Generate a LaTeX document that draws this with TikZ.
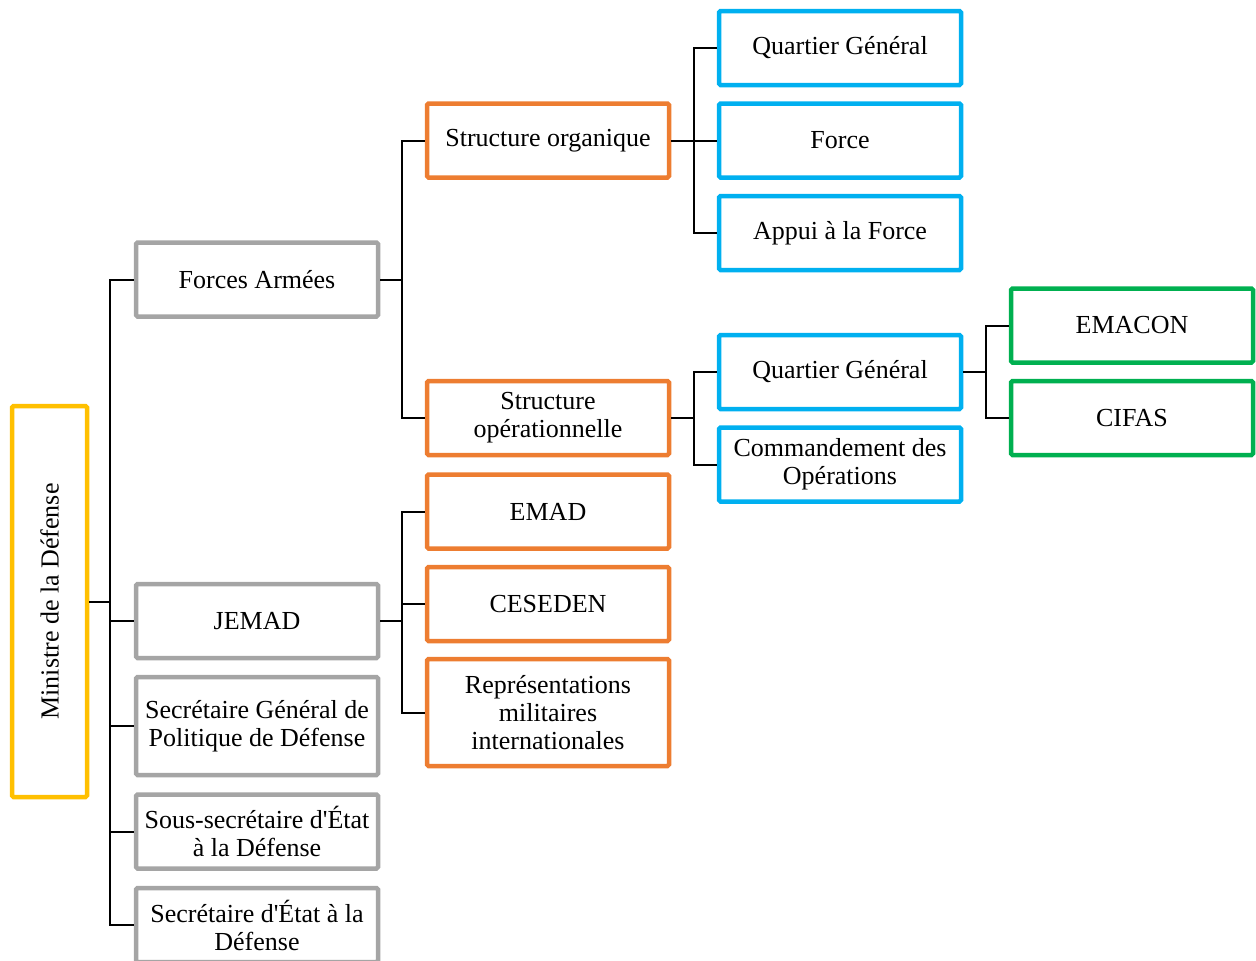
\documentclass[tikz,border=0pt]{standalone}
\usepackage{fontspec}
\setmainfont{Liberation Serif}
\definecolor{cgray}{HTML}{A5A5A5}
\definecolor{corange}{HTML}{ED7D31}
\definecolor{cblue}{HTML}{00B0F0}
\definecolor{cgreen}{HTML}{00B050}
\definecolor{cyellow}{HTML}{FFC000}
\tikzset{
  box/.style={draw, line width=4.5pt, rounded corners=1.5pt, fill=white, inner sep=0pt,
    minimum width=242pt, minimum height=74pt, align=center,
    font=\fontsize{26}{28}\selectfont},
  graybox/.style={box, draw=cgray},
  orangebox/.style={box, draw=corange},
  bluebox/.style={box, draw=cblue},
  greenbox/.style={box, draw=cgreen},
  link/.style={draw=black, line width=2pt},
}
\begin{document}
\begin{tikzpicture}[x=1pt,y=-1pt]
\useasboundingbox (0,0) rectangle (1256,961);
% bus positions
\coordinate (b1) at (110,0);
\coordinate (b2) at (402,0);
\coordinate (b3) at (694,0);
\coordinate (b4) at (986,0);
% root
\node[box, draw=cyellow, minimum width=75pt, minimum height=391pt] (mini) at (49.5,601.5) {\rotatebox{90}{Ministre de la Défense}};
% gray column
\node[graybox] (fa) at (257,279.5) {Forces Armées};
\node[graybox] (jemad) at (257,621) {JEMAD};
\node[graybox, minimum height=98pt] (sg) at (257,726) {Secrétaire Général de\\Politique de Défense};
\node[graybox] (ss) at (257,831.5) {Sous-secrétaire d\textquotesingle État\\à la Défense};
\node[graybox] (se) at (257,925) {Secrétaire d\textquotesingle État à la\\Défense};
% orange column
\node[orangebox] (so) at (548,140.5) {Structure organique};
\node[orangebox] (sop) at (548,418) {Structure\\opérationnelle};
\node[orangebox] (emad) at (548,511.5) {EMAD};
\node[orangebox] (ces) at (548,604) {CESEDEN};
\node[orangebox, minimum height=107pt] (rep) at (548,712.5) {Représentations\\militaires\\internationales};
% blue column
\node[bluebox] (qg1) at (840,48) {Quartier Général};
\node[bluebox] (force) at (840,140.5) {Force};
\node[bluebox] (appui) at (840,233) {Appui à la Force};
\node[bluebox] (qg2) at (840,372) {Quartier Général};
\node[bluebox] (cmd) at (840,464.5) {Commandement des\\Opérations};
% green column
\node[greenbox] (emacon) at (1132,325.5) {EMACON};
\node[greenbox] (cifas) at (1132,418) {CIFAS};
% connectors
\foreach \c in {fa,jemad,sg,ss,se}
  \draw[link] (mini.east) -- (mini.east -| b1) |- (\c.west);
\foreach \c in {so,sop}
  \draw[link] (fa.east) -- (fa.east -| b2) |- (\c.west);
\foreach \c in {emad,ces,rep}
  \draw[link] (jemad.east) -- (jemad.east -| b2) |- (\c.west);
\foreach \c in {qg1,force,appui}
  \draw[link] (so.east) -- (so.east -| b3) |- (\c.west);
\foreach \c in {qg2,cmd}
  \draw[link] (sop.east) -- (sop.east -| b3) |- (\c.west);
\foreach \c in {emacon,cifas}
  \draw[link] (qg2.east) -- (qg2.east -| b4) |- (\c.west);
\end{tikzpicture}
\end{document}
